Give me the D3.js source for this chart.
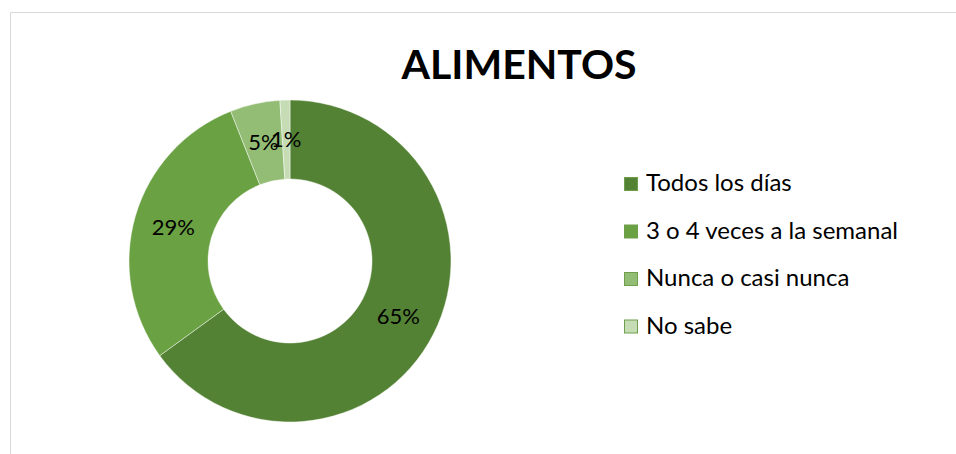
<!DOCTYPE html>
<html lang="es">
<head>
  <meta charset="UTF-8">
  <title>ALIMENTOS</title>
  <script src="https://d3js.org/d3.v7.min.js"></script>
  <style>
    body {
      margin: 0;
      font-family: 'Lato', 'Liberation Sans', sans-serif;
      background: #fff;
    }
    .title {
      font-size: 41px;
      font-weight: bold;
      fill: #000;
    }
    .slice-label {
      font-size: 22px;
      fill: #000;
    }
    .legend text {
      font-size: 24px;
      fill: #000;
    }
  </style>
</head>
<body>
  <svg id="chart" width="956" height="454"></svg>

  <script>
    const categories = ["Todos los días", "3 o 4 veces a la semanal", "Nunca o casi nunca", "No sabe"];
    const values = [65, 29, 5, 1];
    const colors = ["#548235", "#6aa142", "#93bd75", "#c5dcb4"];

    const svg = d3.select("#chart");

    // marco del gráfico (solo borde superior e izquierdo visibles)
    svg.append("path")
      .attr("d", "M10.5,454 V12.5 H956")
      .attr("fill", "none")
      .attr("stroke", "#d9d9d9")
      .attr("stroke-width", 1);

    svg.append("text")
      .attr("class", "title")
      .attr("x", 519)
      .attr("y", 79)
      .attr("text-anchor", "middle")
      .text("ALIMENTOS");

    const cx = 290, cy = 261;
    const outer = 161, inner = 82;

    const pie = d3.pie().sort(null).value(d => d);
    const arc = d3.arc().innerRadius(inner).outerRadius(outer);

    const g = svg.append("g")
      .attr("transform", `translate(${cx},${cy})`);

    const arcs = pie(values);

    g.selectAll("path")
      .data(arcs)
      .enter()
      .append("path")
      .attr("d", arc)
      .attr("fill", (d, i) => colors[i])
      .attr("stroke", "rgba(255,255,255,0.45)")
      .attr("stroke-width", 1);

    g.selectAll(".slice-label")
      .data(arcs)
      .enter()
      .append("text")
      .attr("class", "slice-label")
      .attr("transform", d => `translate(${arc.centroid(d)})`)
      .attr("text-anchor", "middle")
      .attr("dy", "0.36em")
      .text(d => d.data + "%");

    const legend = svg.append("g")
      .attr("class", "legend")
      .attr("transform", "translate(624, 177)");

    categories.forEach((c, i) => {
      const y = i * 47.5;
      legend.append("rect")
        .attr("x", 0.5)
        .attr("y", y + 0.5)
        .attr("width", 13)
        .attr("height", 13)
        .attr("fill", colors[i])
        .attr("stroke", "#6f9f4c")
        .attr("stroke-width", 1);
      legend.append("text")
        .attr("x", 22)
        .attr("y", y + 14)
        .text(c);
    });
  </script>
</body>
</html>
